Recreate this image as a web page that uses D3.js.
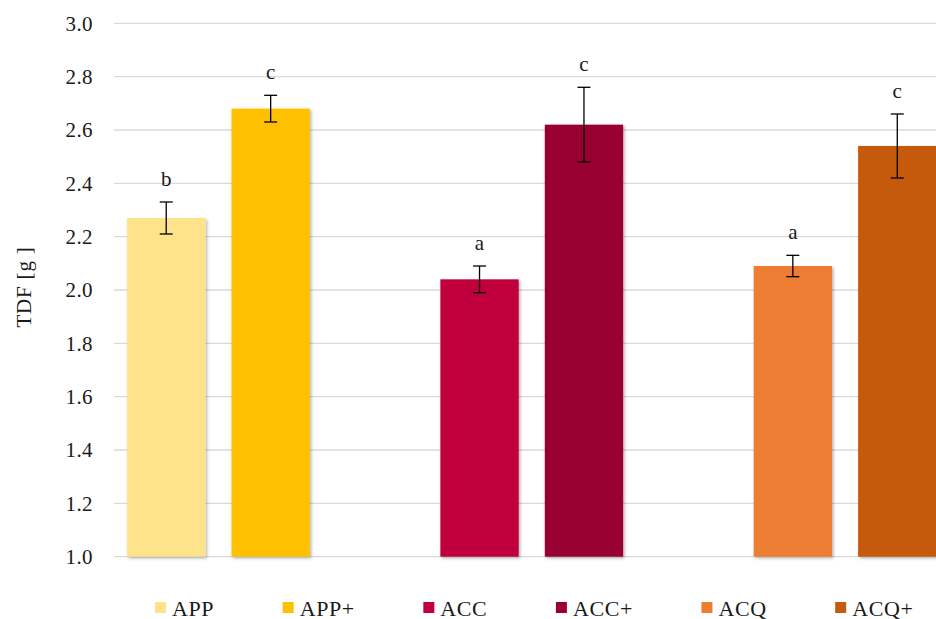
<!DOCTYPE html>
<html><head><meta charset="utf-8">
<script src="https://cdn.jsdelivr.net/npm/d3@7"></script>
<style>body{margin:0;background:#fff}svg{display:block}</style>
</head><body>
<svg id="c" width="936" height="619"></svg>
<script>
const series = ["APP","APP+","ACC","ACC+","ACQ","ACQ+"];
const slots = ["APP","APP+","_gap1","ACC","ACC+","_gap2","ACQ","ACQ+"];
const values = [2.27, 2.68, 2.04, 2.62, 2.09, 2.54];
const errLow = [2.21, 2.63, 1.99, 2.48, 2.05, 2.42];
const errHigh = [2.33, 2.73, 2.09, 2.76, 2.13, 2.66];
const letters = ["b","c","a","c","a","c"];
const colors = ["#FFE38B","#FFC000","#C0003C","#990033","#ED7D31","#C55A11"];
const yTicks = [1.0,1.2,1.4,1.6,1.8,2.0,2.2,2.4,2.6,2.8,3.0];
const yTitle = "TDF [g ]";

const svg = d3.select("#c");
const font = "'Liberation Serif','Times New Roman',serif";
const textCol = "#1a1a1a";
const x = d3.scaleBand().domain(slots).range([114, 949.5]).paddingInner(0.25).paddingOuter(0.125);
const y = d3.scaleLinear().domain([1.0, 3.0]).range([556.7, 23.3]);

const defs = svg.append("defs");
const f = defs.append("filter").attr("id","sh").attr("x","-10%").attr("y","-10%").attr("width","130%").attr("height","130%");
f.append("feDropShadow").attr("dx",1.5).attr("dy",1.5).attr("stdDeviation",1.5).attr("flood-color","#000").attr("flood-opacity",0.3);

// gridlines
svg.append("g").selectAll("line").data(yTicks).join("line")
  .attr("x1",114).attr("x2",936).attr("y1",d=>y(d)).attr("y2",d=>y(d))
  .attr("stroke","#d9d9d9").attr("stroke-width",1.3);

// y axis labels
const yAxis = d3.axisLeft(y).tickValues(yTicks).tickFormat(d3.format(".1f")).tickSize(0).tickPadding(0);
const ga = svg.append("g").attr("transform","translate(93,0)").call(yAxis);
ga.select(".domain").remove();
ga.selectAll("text").attr("font-family",font).attr("font-size",21).attr("fill",textCol).attr("letter-spacing",0.4);

// y title
svg.append("text").attr("transform","translate(31,287) rotate(-90)").attr("text-anchor","middle")
  .attr("font-family",font).attr("font-size",21).attr("letter-spacing",0.8).attr("fill",textCol).text(yTitle);

// bars
svg.append("g").selectAll("rect").data(series).join("rect")
  .attr("x",d=>x(d)).attr("width",x.bandwidth())
  .attr("y",(d,i)=>y(values[i])).attr("height",(d,i)=>y(1.0)-y(values[i]))
  .attr("fill",(d,i)=>colors[i]).attr("filter","url(#sh)");

// error bars
const eg = svg.append("g").attr("stroke","#000").attr("stroke-width",1.3);
series.forEach((s,i)=>{
  const cx = x(s)+x.bandwidth()/2;
  eg.append("line").attr("x1",cx).attr("x2",cx).attr("y1",y(errLow[i])).attr("y2",y(errHigh[i]));
  eg.append("line").attr("x1",cx-6.5).attr("x2",cx+6.5).attr("y1",y(errLow[i])).attr("y2",y(errLow[i]));
  eg.append("line").attr("x1",cx-6.5).attr("x2",cx+6.5).attr("y1",y(errHigh[i])).attr("y2",y(errHigh[i]));
});

// letters
svg.append("g").selectAll("text").data(series).join("text")
  .attr("x",d=>x(d)+x.bandwidth()/2).attr("y",(d,i)=>y(errHigh[i])-16)
  .attr("text-anchor","middle").attr("font-family",font).attr("font-size",21).attr("fill",textCol)
  .text((d,i)=>letters[i]);

// legend
const lg = svg.append("g");
const gap = 68.5, sq = 11, sqGap = 6;
let widths = [];
const tmp = lg.append("text").attr("font-family",font).attr("font-size",22).attr("letter-spacing",0.6);
series.forEach(s=>{ tmp.text(s); widths.push(tmp.node().getComputedTextLength()); });
tmp.remove();
let xx = 155;
series.forEach((s,i)=>{
  lg.append("rect").attr("x",xx).attr("y",602).attr("width",sq).attr("height",sq).attr("fill",colors[i]);
  lg.append("text").attr("x",xx+sq+sqGap).attr("y",615.5).attr("font-family",font).attr("font-size",22)
    .attr("letter-spacing",0.6).attr("fill",textCol).text(s);
  xx += sq+sqGap+widths[i]+gap;
});
</script>
</body></html>
